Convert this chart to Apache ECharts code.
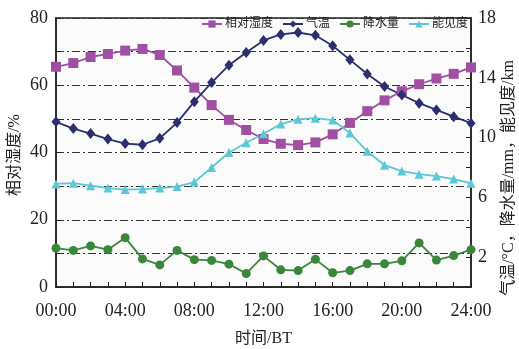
<!DOCTYPE html>
<html><head><meta charset="utf-8">
<script src="https://cdn.jsdelivr.net/npm/echarts@6/dist/echarts.min.js"></script>
<style>html,body{margin:0;padding:0;background:#fff}#c{width:519px;height:349px}</style>
</head><body><div id="c"></div>
<script>
const timeLabels = ['00:00','01:00','02:00','03:00','04:00','05:00','06:00','07:00','08:00','09:00','10:00','11:00','12:00','13:00','14:00','15:00','16:00','17:00','18:00','19:00','20:00','21:00','22:00','23:00','24:00'];
const humidity = [65.5, 66.6, 68.4, 69.3, 70.3, 70.8, 69.0, 64.4, 59.3, 54.1, 49.7, 46.7, 44.0, 42.6, 42.2, 43.0, 45.4, 48.8, 52.3, 55.5, 58.2, 60.3, 62.0, 63.4, 65.3];
const temperature = [11.05, 10.6, 10.27, 9.9, 9.6, 9.52, 9.95, 11.0, 12.4, 13.68, 14.84, 15.69, 16.5, 16.9, 17.03, 16.84, 16.14, 15.2, 14.25, 13.42, 12.85, 12.3, 11.85, 11.4, 10.96];
const precipitation = [2.6, 2.45, 2.75, 2.5, 3.3, 1.88, 1.48, 2.45, 1.83, 1.78, 1.53, 0.9, 2.08, 1.15, 1.1, 1.85, 0.95, 1.1, 1.55, 1.55, 1.75, 2.95, 1.8, 2.1, 2.5];
const visibility = [6.9, 6.95, 6.78, 6.62, 6.52, 6.55, 6.62, 6.72, 7.02, 8.0, 9.0, 9.65, 10.25, 10.9, 11.22, 11.3, 11.17, 10.3, 9.08, 8.15, 7.76, 7.55, 7.42, 7.22, 6.94];
const seriesNames = ['相对湿度','气温','降水量','能见度'];
const leftTitle = '相对湿度/%';
const rightTitle = '气温/°C，降水量/mm，能见度/km';
const xTitle = '时间/BT';

const FONT = "'Liberation Serif', 'Noto Sans CJK SC', serif";
const chart = echarts.init(document.getElementById('c'), null, {renderer: 'canvas'});
const grid = {left: 56, right: 48, top: 18, bottom: 62};
const gridDash = {color: '#333', width: 1, type: [8, 3, 2, 3]};
function lineSeries(name, data, yIdx, color, symbol, size) {
  return {
    name, type: 'line', data, yAxisIndex: yIdx,
    symbol, symbolSize: size,
    lineStyle: {color, width: 1.8},
    itemStyle: {color},
    emphasis: {disabled: true},
    animation: false
  };
}
chart.setOption({
  animation: false,
  backgroundColor: '#fff',
  textStyle: {fontFamily: FONT},
  grid: Object.assign({show: true, backgroundColor: '#fbfbfb', borderColor: '#222', borderWidth: 1.5,
    containLabel: false, outerBoundsMode: 'none'}, grid),
  legend: {
    data: seriesNames, left: 198, top: 17,
    backgroundColor: 'transparent', padding: [1, 3, 1, 3],
    itemWidth: 20, itemHeight: 9, itemGap: 9,
    textStyle: {fontFamily: FONT, fontSize: 12, color: '#222', padding: [0, 0, 0, -2]}
  },
  xAxis: {
    type: 'category', data: timeLabels, boundaryGap: false,
    axisLine: {lineStyle: {color: '#222', width: 1.5}},
    axisTick: {inside: true, length: 5, interval: 0, lineStyle: {color: '#222', width: 1}},
    axisLabel: {interval: 3, margin: 15, fontSize: 18, color: '#222', fontFamily: FONT},
    splitLine: {show: false},
    name: xTitle, nameLocation: 'middle', nameGap: 44,
    nameTextStyle: {fontSize: 16, color: '#222', fontFamily: FONT}
  },
  yAxis: [
    {
      type: 'value', min: 0, max: 80, interval: 10, position: 'left',
      axisLine: {show: true, lineStyle: {color: '#222', width: 1.5}},
      axisTick: {show: true, inside: true, length: 5, lineStyle: {color: '#222'}},
      axisLabel: {margin: 8, fontSize: 18, color: '#222', fontFamily: FONT,
        formatter: v => (v % 20 === 0 ? String(v) : '')},
      splitLine: {show: true, lineStyle: gridDash}
    },
    {
      type: 'value', min: 0, max: 18, interval: 2, position: 'right',
      axisLine: {show: true, lineStyle: {color: '#222', width: 1.5}},
      axisTick: {show: true, inside: true, length: 5, lineStyle: {color: '#222'}},
      axisLabel: {margin: 7, fontSize: 18, color: '#222', fontFamily: FONT,
        formatter: v => (v % 4 === 2 ? String(v) : '')},
      splitLine: {show: false}
    }
  ],
  graphic: [
    {type: 'text', x: 15, y: 155, rotation: Math.PI / 2,
      style: {text: leftTitle, fontSize: 16, fontFamily: FONT, fill: '#222', align: 'center', verticalAlign: 'middle'}},
    {type: 'text', x: 509, y: 178, rotation: Math.PI / 2,
      style: {text: rightTitle, fontSize: 16, fontFamily: FONT, fill: '#222', align: 'center', verticalAlign: 'middle'}}
  ],
  series: [
    lineSeries(seriesNames[0], humidity, 0, '#a04fa3', 'rect', 10),
    lineSeries(seriesNames[1], temperature, 1, '#2c2f6e', 'diamond', [9, 11]),
    lineSeries(seriesNames[2], precipitation, 1, '#3a873c', 'circle', 9),
    lineSeries(seriesNames[3], visibility, 1, '#5cc7d6', 'triangle', 9)
  ]
});
</script></body></html>
